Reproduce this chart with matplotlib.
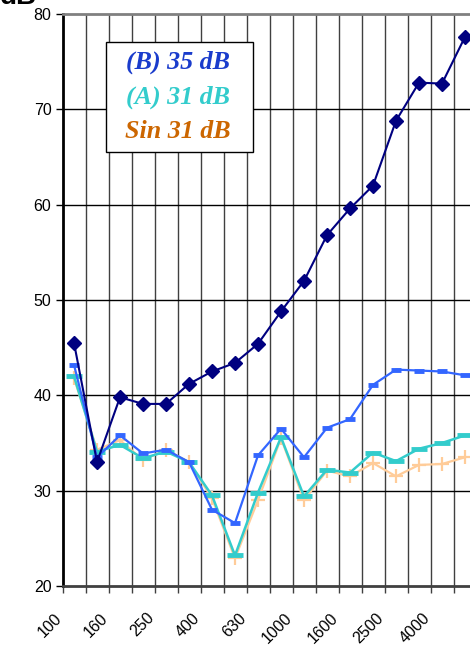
import numpy as np
import matplotlib.pyplot as plt
import matplotlib.transforms as mtransforms
from matplotlib.patches import Rectangle

# 1/3 octave bands
freqs = ['100', '125', '160', '200', '250', '315', '400', '500', '630',
         '800', '1000', '1250', '1600', '2000', '2500', '3150', '4000', '5000']

ref = [45.5, 33.0, 39.8, 39.1, 39.1, 41.2, 42.5, 43.4, 45.4,
       48.8, 52.0, 56.8, 59.6, 62.0, 68.8, 72.8, 72.7, 77.6]
b_35 = [43.2, 33.5, 35.8, 33.9, 34.3, 33.0, 28.0, 26.6, 33.7,
        36.5, 33.5, 36.6, 37.5, 41.1, 42.7, 42.6, 42.5, 42.1]
a_31 = [42.0, 34.1, 34.8, 33.4, 34.1, 33.0, 29.5, 23.2, 29.8,
        35.6, 29.4, 32.2, 31.9, 34.0, 33.1, 34.4, 35.0, 35.8]
sin_31 = [41.8, 34.3, 35.3, 33.2, 34.3, 33.0, 29.2, 22.9, 29.0,
          35.5, 29.0, 32.1, 31.5, 32.9, 31.5, 32.7, 32.8, 33.5]

labels = ['(B) 35 dB', '(A) 31 dB', 'Sin 31 dB']
label_colors = ['#1a3ccc', '#33cccc', '#cc6600']

plt.rcParams['font.family'] = ['Liberation Sans', 'DejaVu Sans']

fig = plt.figure(figsize=(4.7, 6.48), dpi=100)
ax = fig.add_axes([62.5/470, 62/648, 414/470, 572/648])

x = np.arange(len(freqs))

ax.plot(x, sin_31, color='#ffcc99', lw=1.6, marker='+', ms=10, mew=1.6, zorder=3)
ax.plot(x, a_31, color='#33cccc', lw=1.8, marker='_', ms=12, mew=3.5, zorder=4)
ax.plot(x, b_35, color='#3366ff', lw=1.6, marker='_', ms=7, mew=3.5, zorder=5)
ax.plot(x, ref, color='#000080', lw=1.5, marker='D', ms=7, zorder=6)

ax.set_xlim(-0.5, len(freqs) - 0.5)
ax.set_ylim(20, 80)
ax.set_yticks(range(20, 81, 10))
ax.tick_params(axis='y', labelsize=11.5, length=5, width=1, direction='out', pad=3)

# tick marks at category boundaries, labels on every other category
ax.set_xticks(np.arange(-0.5, len(freqs), 1))
ax.set_xticklabels([])
ax.tick_params(axis='x', which='major', length=5, width=1, direction='out', color='#404040')
ax.set_xticks(x, minor=True)
ax.set_xticklabels([f if i % 2 == 0 else '' for i, f in enumerate(freqs)], minor=True)
ax.tick_params(axis='x', which='minor', length=0, pad=0, labelsize=11.5)
offset = mtransforms.ScaledTranslation(-14.5/100, -29.5/100, fig.dpi_scale_trans)
for lab in ax.get_xticklabels(minor=True):
    lab.set_rotation(45)
    lab.set_ha('right')
    lab.set_va('center')
    lab.set_rotation_mode('anchor')
    lab.set_transform(lab.get_transform() + offset)

for b in np.arange(0.5, len(freqs) - 0.5, 1):
    ax.axvline(b, color='#404040', lw=1, zorder=1)
for y in range(30, 80, 10):
    ax.axhline(y, color='black', lw=1, zorder=1)

ax.spines['top'].set_color('#808080')
ax.spines['top'].set_linewidth(2)
ax.spines['left'].set_linewidth(2)
ax.spines['bottom'].set_color('#404040')
ax.spines['bottom'].set_linewidth(2)
ax.spines['right'].set_visible(False)

# legend box drawn by hand: text only, coloured per series
ax.add_patch(Rectangle((0.105, 0.759), 0.355, 0.192, transform=ax.transAxes,
                       facecolor='white', edgecolor='black', lw=1, zorder=10))
for yy, t, c in zip([0.905, 0.843, 0.783], labels, label_colors):
    ax.text(0.279, yy, t, transform=ax.transAxes, ha='center', va='baseline',
            color=c, family='Liberation Serif', weight='bold', style='italic',
            fontsize=18.7, zorder=11)

fig.text(0.0, 1.0 - 4/648, 'dB', fontsize=20, fontweight='bold', ha='left', va='baseline')

fig.savefig('out.png', dpi=100)
